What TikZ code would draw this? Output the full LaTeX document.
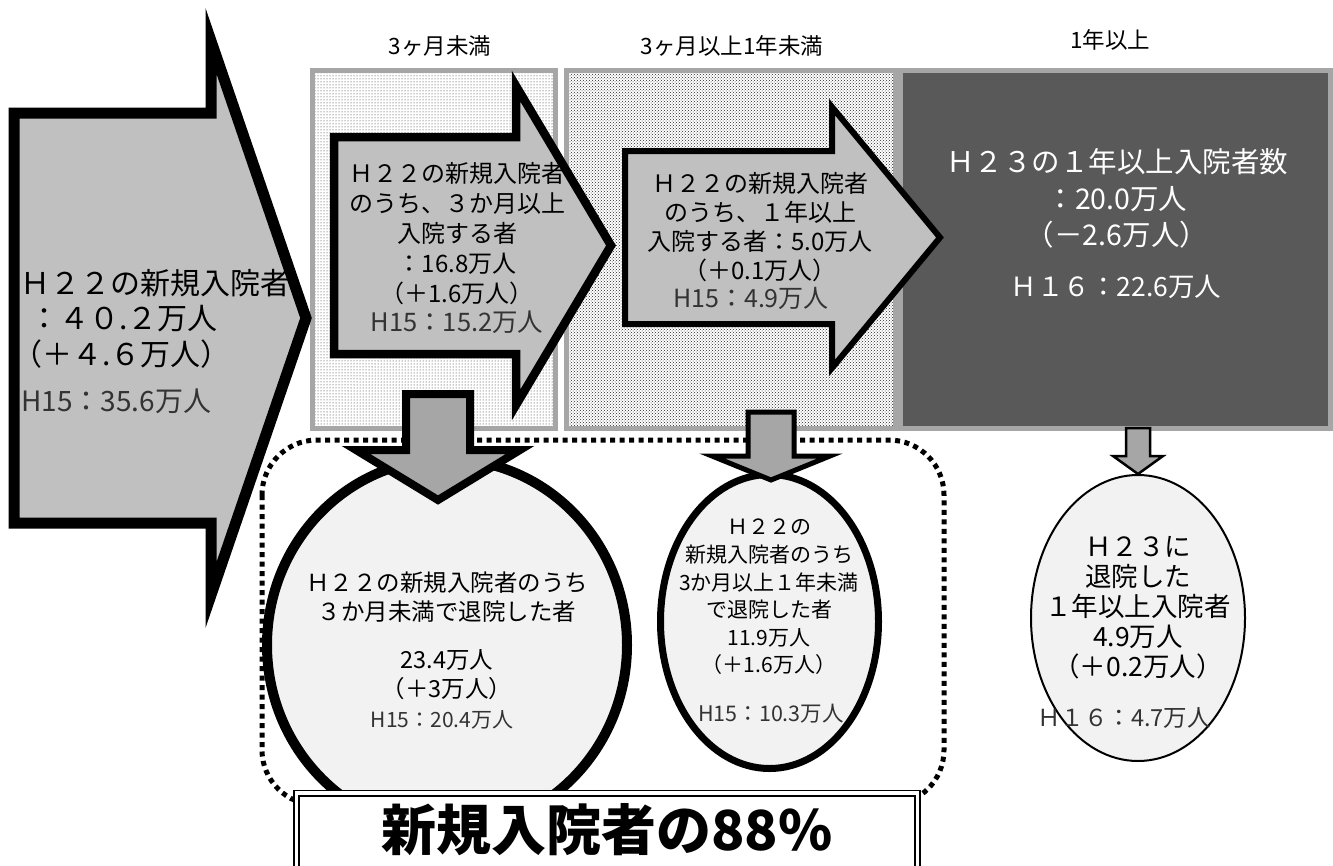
\documentclass[tikz,border=0pt]{standalone}
\usepackage{fontspec}
\setmainfont{Noto Sans CJK JP}
\usetikzlibrary{patterns,shapes.geometric}
\definecolor{afill}{HTML}{C0C0C0}
\definecolor{dfill}{HTML}{A6A6A6}
\definecolor{bordergray}{HTML}{A6A6A6}
\definecolor{darkbox}{HTML}{595959}
\definecolor{efill}{HTML}{F2F2F2}
\definecolor{htext}{HTML}{333333}
\tikzset{
  colbox/.style={draw=bordergray, line width=5pt},
  bigarrow/.style={draw=black, fill=afill, line width=11pt, line join=miter},
  midarrow/.style={draw=black, fill=afill, line join=miter},
  downarrow/.style={draw=black, fill=dfill, line join=miter},
  ovalbox/.style={ellipse, draw=black, fill=efill, inner sep=0pt},
  dotrect/.style={draw=black, line width=5pt, dash pattern=on 5pt off 4.5pt, rounded corners=55pt},
  pctbox/.style={draw=black, double=white, line width=1.6pt, double distance=3.5pt, fill=white, inner sep=0pt},
  hdr/.style={font=\fontsize{22.5}{26}\selectfont},
  htx/.style={text=htext},
}
\begin{document}
\begin{tikzpicture}[x=1pt,y=-1pt]
\useasboundingbox (0,0) rectangle (1333,865);
% column boxes
\draw[colbox, preaction={fill=white}, pattern=dots, pattern color=black!85] (312.5,70.5) rectangle (555.5,428.5);
\draw[colbox, preaction={fill=white}, pattern=crosshatch dots, pattern color=black!85] (566.5,70.5) rectangle (895,428.5);
\draw[colbox, fill=darkbox] (900.5,70.5) rectangle (1330.5,428.5);
% headers
\node[hdr] (h1) at (440,46) {3ヶ月未満};
\node[hdr] (h2) at (732,46) {3ヶ月以上1年未満};
\node[hdr] (h3) at (1110,40) {1年以上};
% dotted group
\draw[dotrect] (262,440) rectangle (944,805);
% horizontal arrows
\draw[bigarrow] (14,113) -- (211,113) -- (211,41) -- (306,318) -- (211,595) -- (211,523) -- (14,523) -- cycle;
\draw[midarrow, line width=8.5pt] (334,137) -- (516,137) -- (516,86) -- (611,245.5) -- (516,405) -- (516,354) -- (334,354) -- cycle;
\draw[midarrow, line width=6pt] (625,151) -- (832,151) -- (832,107) -- (940,237.5) -- (832,368) -- (832,324) -- (625,324) -- cycle;
% ellipses
\node[ovalbox, line width=10pt, minimum width=360pt, minimum height=372pt] (e1) at (447,645) {};
\node[ovalbox, line width=7pt, minimum width=218pt, minimum height=294pt] (e2) at (769.5,621.5) {};
\node[ovalbox, line width=2pt, minimum width=214pt, minimum height=286pt] (e3) at (1138,618) {};
% down arrows
\draw[downarrow, line width=8pt] (406,394) -- (470,394) -- (470,450) -- (520,450) -- (438,500) -- (356,450) -- (406,450) -- cycle;
\draw[downarrow, line width=5pt] (748,412) -- (794,412) -- (794,456) -- (830,456) -- (771,480) -- (712,456) -- (748,456) -- cycle;
\draw[downarrow, line width=2.5pt] (1126,428) -- (1150,428) -- (1150,456) -- (1163,456) -- (1138,474) -- (1113,456) -- (1126,456) -- cycle;
% bottom box
\node[pctbox, minimum width=621pt, minimum height=90pt, anchor=north] (pb) at (607,792.4) {};
\node[font=\fontsize{55}{62}\selectfont\bfseries] (pt) at (607,830) {新規入院者の88\%};
% texts
\node[font=\fontsize{30}{35.5}\selectfont, align=left, anchor=west, inner sep=0pt] (lt) at (20,318.5) {Ｈ２２の新規入院者\\\hspace*{9pt}：４０.２万人\\\hspace*{-8pt}（＋４.６万人）};
\node[font=\fontsize{28}{32}\selectfont, htx, anchor=west, inner sep=0pt] (lh) at (21,401) {H15：35.6万人};
\node[font=\fontsize{24}{30}\selectfont, align=center] (a2t) at (457,234) {Ｈ２２の新規入院者\\のうち、３か月以上\\入院する者\\：16.8万人\\（＋1.6万人）};
\node[font=\fontsize{25.5}{28}\selectfont, htx] (a2h) at (457,322) {H15：15.2万人};
\node[font=\fontsize{24}{29}\selectfont, align=center] (a3t) at (760,227) {Ｈ２２の新規入院者\\のうち、１年以上\\入院する者：5.0万人\\（＋0.1万人）};
\node[font=\fontsize{25}{28}\selectfont, htx] (a3h) at (751,298) {H15：4.9万人};
\node[font=\fontsize{28.5}{36.5}\selectfont, align=center, text=white] (dt) at (1117,198.5) {Ｈ２３の１年以上入院者数\\：20.0万人\\（－2.6万人）};
\node[font=\fontsize{26.5}{30}\selectfont, text=white] (dh) at (1116,287) {Ｈ１６：22.6万人};
\node[font=\fontsize{23.5}{29}\selectfont, align=center] (e1t) at (447,636) {Ｈ２２の新規入院者のうち\\３か月未満で退院した者\\[19pt]23.4万人\\（＋3万人）};
\node[font=\fontsize{21}{24}\selectfont, htx] (e1h) at (442,720) {H15：20.4万人};
\node[font=\fontsize{21}{27.6}\selectfont, align=center] (e2t) at (769,597) {Ｈ２２の\\新規入院者のうち\\3か月以上１年未満\\で退院した者\\11.9万人\\（＋1.6万人）};
\node[font=\fontsize{21.5}{24}\selectfont, htx] (e2h) at (771,714) {H15：10.3万人};
\node[font=\fontsize{26.5}{30}\selectfont, align=center] (e3t) at (1138,608) {Ｈ２３に\\退院した\\１年以上入院者\\4.9万人\\（＋0.2万人）};
\node[font=\fontsize{23.5}{26}\selectfont, htx] (e3h) at (1124,718) {Ｈ１６：4.7万人};
\end{tikzpicture}
\end{document}
